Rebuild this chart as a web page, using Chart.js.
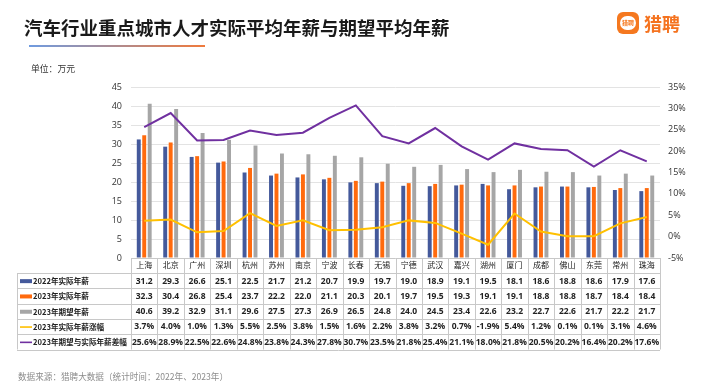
<!DOCTYPE html>
<html>
<head>
<meta charset="utf-8">
<script src="https://cdn.jsdelivr.net/npm/chart.js@4.4.0/dist/chart.umd.min.js"></script>
<style>
  body { margin: 0; background: #fff; font-family: "Noto Sans CJK SC", "Noto Sans", sans-serif; }
  #wrap { position: relative; width: 704px; height: 389px; overflow: hidden; }
  #c { position: absolute; left: 0; top: 0; }
  .title { position: absolute; left: 24px; top: 15px; font-size: 18.5px; font-weight: bold; color: #1a1a1a; line-height: 24px; white-space: nowrap; }
  .bar-line { position: absolute; left: 29px; top: 45px; width: 176px; height: 2px; background: linear-gradient(to right, #6f9be0, #f07a3c); }
  .unit { position: absolute; left: 31px; top: 62px; font-size: 8.8px; color: #333; line-height: 14px; }
  .source { position: absolute; left: 18px; top: 369px; font-size: 8.6px; color: #8c8c8c; line-height: 14px; white-space: nowrap; }
  .logo-icon { position: absolute; left: 617px; top: 12px; width: 22px; height: 22px; border-radius: 6px; background: #f5781f; }
  .logo-icon span { position: absolute; left: 3px; top: 4px; width: 16px; height: 14px; border-radius: 8px; background: #fff; color: #f5781f; font-size: 6px; line-height: 14px; text-align: center; font-weight: bold; }
  .logo-text { position: absolute; left: 644px; top: 11px; font-size: 18px; color: #f5731f; line-height: 24px; font-weight: bold; }
</style>
</head>
<body>
<div id="wrap">
  <canvas id="c" width="704" height="389"></canvas>
  <div class="title">汽车行业重点城市人才实际平均年薪与期望平均年薪</div>
  <div class="bar-line"></div>
  <div class="unit">单位：万元</div>
  <div class="logo-icon"><span>猎聘</span></div>
  <div class="logo-text">猎聘</div>
  <div class="source">数据来源：猎聘大数据（统计时间：2022年、2023年）</div>
</div>
<script>
var cities = ["上海","北京","广州","深圳","杭州","苏州","南京","宁波","长春","无锡","宁德","武汉","嘉兴","湖州","厦门","成都","佛山","东莞","常州","珠海"]
var actual2022 = [31.2,29.3,26.6,25.1,22.5,21.7,21.2,20.7,19.9,19.7,19.0,18.9,19.1,19.5,18.1,18.6,18.8,18.6,17.9,17.6]
var actual2023 = [32.3,30.4,26.8,25.4,23.7,22.2,22.0,21.1,20.3,20.1,19.7,19.5,19.3,19.1,19.1,18.8,18.8,18.7,18.4,18.4]
var expected2023 = [40.6,39.2,32.9,31.1,29.6,27.5,27.3,26.9,26.5,24.8,24.0,24.5,23.4,22.6,23.2,22.7,22.6,21.7,22.2,21.7]
var growth2023 = [3.7,4.0,1.0,1.3,5.5,2.5,3.8,1.5,1.6,2.2,3.8,3.2,0.7,-1.9,5.4,1.2,0.1,0.1,3.1,4.6]
var gap2023 = [25.6,28.9,22.5,22.6,24.8,23.8,24.3,27.8,30.7,23.5,21.8,25.4,21.1,18.0,21.8,20.5,20.2,16.4,20.2,17.6]

var names = ["2022年实际年薪","2023年实际年薪","2023年期望年薪","2023年实际年薪涨幅","2023年期望与实际年薪差幅"]
var colors = ["#44599b","#ff6a0d","#a6a6a6","#ffc000","#7030a0"]

// table under the chart, columns follow the x scale
var tablePlugin = {
    id: "dataTable",
    afterDraw: function(chart){
        var ctx = chart.ctx
        var x = chart.scales.x
        var area = chart.chartArea
        var n = cities.length
        var colW = (area.right - area.left) / n
        var tLeft = 17
        var headTop = area.bottom
        var headBot = headTop + 15
        var rowH = 15.3
        var tBot = headBot + rowH * 5
        var rows = [actual2022, actual2023, expected2023, growth2023, gap2023]

        ctx.save()
        ctx.strokeStyle = "#c8c8c8"
        ctx.lineWidth = 1
        ctx.beginPath()
        ctx.moveTo(area.left, headTop + 0.5); ctx.lineTo(area.right, headTop + 0.5)
        for (var r = 0; r <= 5; r++){
            var yy = Math.round(headBot + rowH * r) + 0.5
            ctx.moveTo(tLeft, yy); ctx.lineTo(area.right, yy)
        }
        ctx.moveTo(tLeft + 0.5, headBot); ctx.lineTo(tLeft + 0.5, tBot)
        for (var i = 0; i <= n; i++){
            var xx = Math.round(area.left + colW * i) + 0.5
            ctx.moveTo(xx, headTop); ctx.lineTo(xx, tBot)
        }
        ctx.stroke()

        ctx.textBaseline = "middle"
        for (var r = 0; r < 5; r++){
            var cy = headBot + rowH * r + rowH / 2 + 0.5
            ctx.fillStyle = colors[r]
            if (r < 3) ctx.fillRect(20, cy - 2, 12, 4)
            else ctx.fillRect(20, cy - 0.8, 12, 1.6)
            ctx.fillStyle = "#222"
            ctx.font = "bold 7.6px 'Noto Sans CJK SC'"
            ctx.textAlign = "left"
            ctx.fillText(names[r], 33, cy)
            ctx.textAlign = "center"
            ctx.font = "bold 8.5px 'Open Sans'"
            for (var i = 0; i < n; i++){
                var txt = rows[r][i].toFixed(1) + (r >= 3 ? "%" : "")
                ctx.fillText(txt, x.getPixelForValue(i), cy)
            }
        }
        ctx.restore()
    }
}

function crearGrafico(){
    var ctx = document.getElementById("c").getContext("2d")
    new Chart(ctx, {
        type: "bar",
        data: {
            labels: cities,
            datasets: [
                { label: names[0], data: actual2022, backgroundColor: colors[0], yAxisID: "y", order: 1,
                  barPercentage: 0.72, categoryPercentage: 0.62 },
                { label: names[1], data: actual2023, backgroundColor: colors[1], yAxisID: "y", order: 1,
                  barPercentage: 0.72, categoryPercentage: 0.62 },
                { label: names[2], data: expected2023, backgroundColor: colors[2], yAxisID: "y", order: 1,
                  barPercentage: 0.72, categoryPercentage: 0.62 },
                { type: "line", label: names[3], data: growth2023, borderColor: colors[3], borderWidth: 2,
                  pointRadius: 0, tension: 0, fill: false, yAxisID: "y1", order: 0 },
                { type: "line", label: names[4], data: gap2023, borderColor: colors[4], borderWidth: 2,
                  pointRadius: 0, tension: 0, fill: false, yAxisID: "y1", order: 0 }
            ]
        },
        options: {
            responsive: false,
            maintainAspectRatio: false,
            animation: false,
            layout: { padding: { left: 0, right: 0, top: 87, bottom: 116 } },
            plugins: { legend: { display: false }, tooltip: { enabled: false } },
            scales: {
                x: {
                    grid: { display: false, drawTicks: false },
                    border: { display: false },
                    ticks: { color: "#222", font: { size: 8, family: "Noto Sans CJK SC" }, padding: 2, maxRotation: 0, autoSkip: false },
                    afterFit: function(s){ s.height = 15 }
                },
                y: {
                    position: "left",
                    min: 0, max: 45,
                    ticks: { stepSize: 5, color: "#333", font: { size: 9, family: "Open Sans" }, padding: 9 },
                    grid: { color: "#e3e3e3", drawTicks: false },
                    border: { display: false },
                    afterFit: function(s){ s.width = 131 }
                },
                y1: {
                    position: "right",
                    min: -5, max: 35,
                    ticks: { stepSize: 5, color: "#333", font: { size: 9, family: "Open Sans" }, padding: 8,
                        callback: function(v){ return v + "%" } },
                    grid: { display: false, drawTicks: false },
                    border: { display: false },
                    afterFit: function(s){ s.width = 44 }
                }
            }
        },
        plugins: [tablePlugin]
    })
}
document.addEventListener("DOMContentLoaded", crearGrafico)
</script>
</body>
</html>
